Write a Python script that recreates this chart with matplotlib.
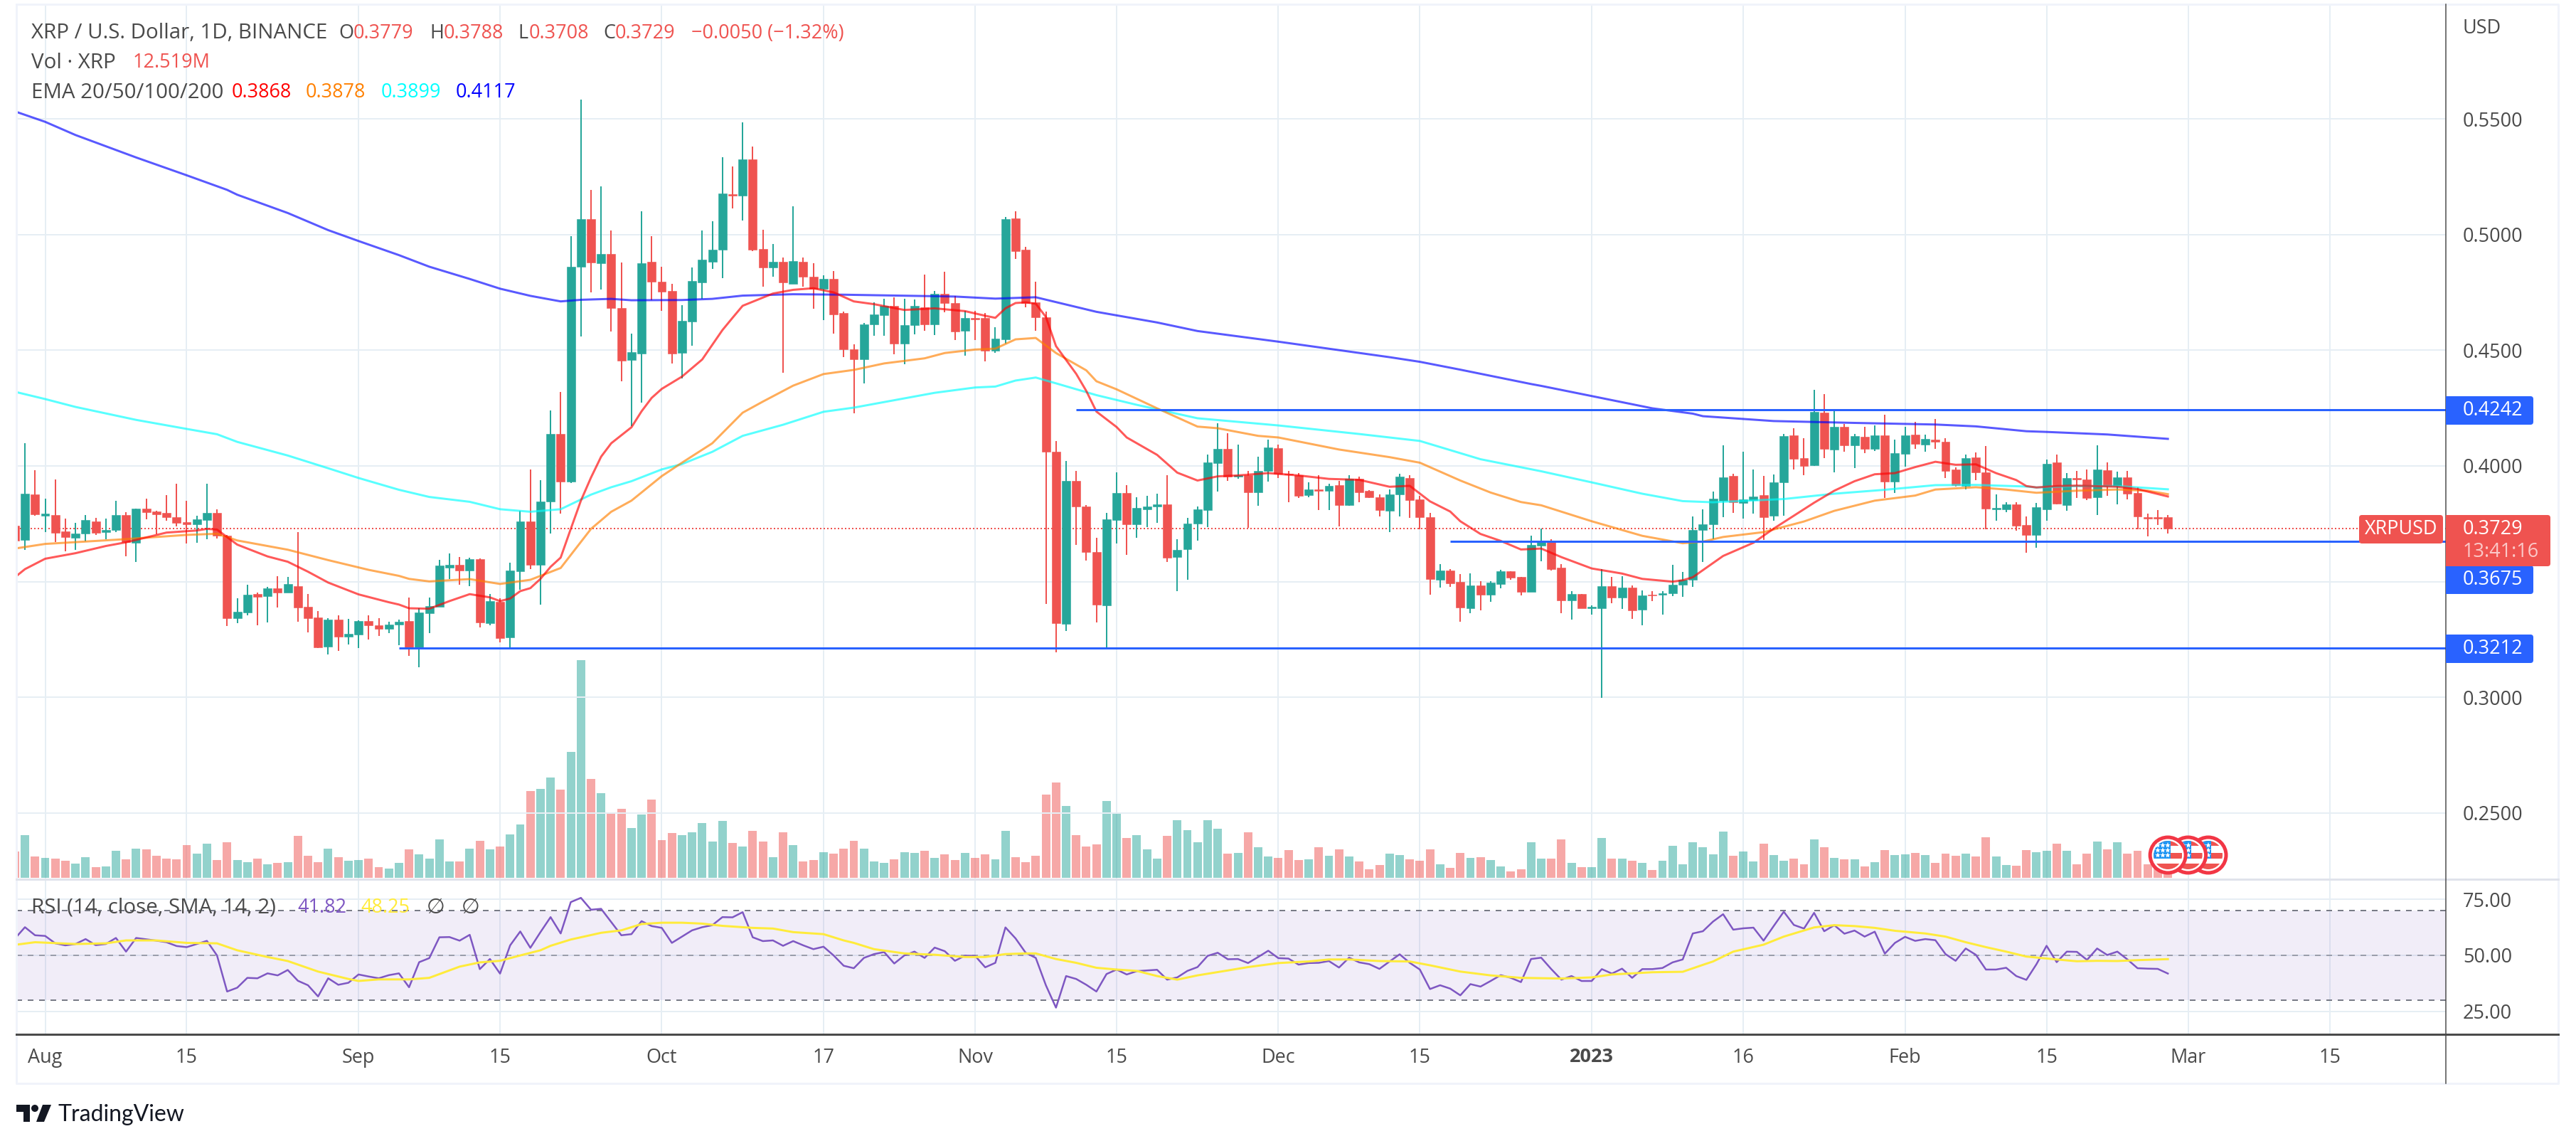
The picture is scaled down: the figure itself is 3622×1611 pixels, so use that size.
import matplotlib
matplotlib.use('Agg')
import matplotlib.pyplot as plt
import numpy as np
from matplotlib.patches import Circle, FancyBboxPatch, Polygon, Rectangle

# every series is daily, day 0 is 1 Aug 2022, first visible bar is day -3
opens = [
    .3741, .3681, .3876, .3784, .3787, .3717, .3689, .3707, .3760, .3713,
    .3722, .3787, .3667, .3815, .3802, .3796, .3778, .3757, .3747, .3765,
    .3796, .3699, .3342, .3367, .3446, .3438, .3471, .3452, .3480, .3391,
    .3346, .3220, .3336, .3262, .3272, .3330, .3312, .3296, .3315, .3330,
    .3210, .3364, .3391, .3560, .3572, .3548, .3597, .3320, .3412, .3259,
    .3544, .3760, .3572, .3846, .4137, .3931, .4860, .5068, .4875, .4917,
    .4682, .4458, .4487, .4881, .4795, .4755, .4489, .4624, .4792, .4883,
    .4934, .5174, .5167, .5325, .4939, .4859, .4883, .4788, .4883, .4819,
    .4764, .4807, .4660, .4505, .4462, .4613, .4652, .4692, .4528, .4610,
    .4684, .4613, .4745, .4704, .4583, .4640, .4638, .4497, .4546, .5069,
    .4933, .4708, .4641, .4063, .3319, .3934, .3825, .3628, .3399, .3765,
    .3882, .3748, .3812, .3824, .3835, .3606, .3639, .3751, .3809, .4011,
    .4075, .3953, .3961, .3885, .3977, .4077, .3967, .3959, .3873, .3898,
    .3892, .3916, .3832, .3944, .3892, .3865, .3806, .3876, .3949, .3855,
    .3780, .3508, .3547, .3500, .3384, .3485, .3445, .3490, .3544, .3520,
    .3456, .3657, .3676, .3560, .3418, .3448, .3384, .3384, .3480, .3430,
    .3474, .3378, .3445, .3445, .3451, .3488, .3507, .3724, .3749, .3850,
    .3957, .3841, .3853, .3874, .3785, .3929, .4132, .4034, .4003, .4230,
    .4071, .4169, .4089, .4126, .4074, .4132, .3933, .4052, .4135, .4092,
    .4114, .4104, .3985, .3914, .4037, .3972, .3813, .3813, .3834, .3745,
    .3702, .3813, .4015, .3831, .3948, .3942, .3865, .3982, .3914, .3951,
    .3883, .3780, .3780, .3779,
]
closes = [
    .3678, .3879, .3791, .3794, .3710, .3692, .3707, .3765, .3710, .3722,
    .3787, .3670, .3815, .3799, .3791, .3778, .3754, .3747, .3768, .3796,
    .3699, .3342, .3370, .3444, .3434, .3471, .3452, .3489, .3388, .3342,
    .3217, .3336, .3262, .3275, .3330, .3312, .3296, .3315, .3327, .3210,
    .3367, .3394, .3570, .3572, .3548, .3597, .3323, .3415, .3256, .3548,
    .3760, .3572, .3846, .4137, .3931, .4862, .5068, .4879, .4917, .4682,
    .4455, .4492, .4877, .4795, .4752, .4487, .4627, .4798, .4890, .4933,
    .5178, .5168, .5325, .4933, .4859, .4883, .4792, .4886, .4817, .4764,
    .4807, .4655, .4505, .4462, .4613, .4656, .4692, .4528, .4610, .4692,
    .4613, .4745, .4704, .4580, .4640, .4634, .4498, .4549, .5066, .4927,
    .4705, .4641, .4060, .3322, .3934, .3825, .3628, .3402, .3768, .3882,
    .3748, .3818, .3824, .3835, .3603, .3636, .3751, .3812, .4014, .4075,
    .3953, .3961, .3885, .3980, .4081, .3967, .3964, .3870, .3898, .3892,
    .3913, .3832, .3944, .3885, .3865, .3809, .3876, .3953, .3852, .3780,
    .3511, .3547, .3494, .3387, .3485, .3445, .3496, .3544, .3517, .3456,
    .3658, .3676, .3553, .3418, .3448, .3386, .3390, .3480, .3430, .3474,
    .3375, .3442, .3439, .3451, .3488, .3509, .3724, .3749, .3859, .3951,
    .3844, .3856, .3868, .3779, .3929, .4129, .4031, .4000, .4233, .4074,
    .4169, .4089, .4129, .4074, .4132, .3933, .4055, .4132, .4095, .4117,
    .4104, .3979, .3917, .4034, .3972, .3816, .3819, .3834, .3742, .3702,
    .3822, .4009, .3837, .3948, .3942, .3862, .3985, .3914, .3951, .3880,
    .3782, .3774, .3774, .3729,
]
highs = [
    .3760, .4097, .3981, .3858, .3941, .3772, .3754, .3787, .3775, .3772,
    .3849, .3799, .3815, .3858, .3805, .3873, .3922, .3849, .3784, .3922,
    .3812, .3702, .3428, .3486, .3452, .3477, .3523, .3520, .3713, .3446,
    .3373, .3342, .3354, .3339, .3333, .3354, .3342, .3327, .3336, .3431,
    .3385, .3431, .3594, .3622, .3606, .3602, .3600, .3446, .3428, .3581,
    .3805, .3984, .3938, .4239, .4321, .4994, .5584, .5193, .5207, .5018,
    .4878, .4571, .5102, .4994, .4862, .4786, .4694, .4859, .5018, .5058,
    .5334, .5295, .5485, .5380, .5021, .4960, .4902, .5123, .4902, .4875,
    .4824, .4841, .4667, .4525, .4619, .4708, .4722, .4729, .4723, .4719,
    .4826, .4756, .4838, .4735, .4671, .4671, .4660, .4598, .5077, .5101,
    .4946, .4797, .4666, .4109, .4023, .3977, .3830, .3688, .3797, .3972,
    .3916, .3865, .3870, .3879, .3961, .3682, .3777, .3824, .4048, .4185,
    .4142, .4093, .3977, .4039, .4114, .4093, .3977, .3969, .3929, .3961,
    .3923, .3935, .3961, .3953, .3897, .3877, .3899, .3967, .3959, .3870,
    .3797, .3575, .3554, .3532, .3535, .3503, .3503, .3550, .3544, .3520,
    .3698, .3730, .3684, .3575, .3460, .3448, .3398, .3554, .3520, .3523,
    .3485, .3463, .3460, .3460, .3573, .3541, .3782, .3813, .3890, .4089,
    .3967, .4061, .3985, .3957, .3963, .4138, .4163, .4120, .4328, .4310,
    .4245, .4181, .4138, .4169, .4175, .4221, .4114, .4169, .4190, .4135,
    .4203, .4120, .3995, .4049, .4058, .4086, .3877, .3843, .3843, .3782,
    .3840, .4028, .4049, .3969, .3979, .3985, .4089, .4015, .3975, .3979,
    .3908, .3794, .3810, .3788,
]
lows = [
    .3660, .3636, .3784, .3715, .3670, .3631, .3636, .3674, .3702, .3683,
    .3715, .3609, .3586, .3768, .3705, .3762, .3738, .3665, .3667, .3683,
    .3686, .3309, .3321, .3354, .3312, .3323, .3388, .3452, .3327, .3281,
    .3214, .3186, .3201, .3228, .3214, .3250, .3265, .3278, .3226, .3180,
    .3130, .3278, .3391, .3511, .3486, .3480, .3302, .3312, .3238, .3217,
    .3464, .3554, .3401, .3707, .3794, .3925, .4559, .4749, .4762, .4581,
    .4365, .4172, .4275, .4716, .4671, .4442, .4378, .4519, .4722, .4851,
    .4811, .5113, .5062, .4927, .4774, .4819, .4403, .4788, .4774, .4680,
    .4629, .4572, .4471, .4227, .4357, .4562, .4562, .4482, .4440, .4568,
    .4583, .4565, .4663, .4544, .4477, .4544, .4452, .4488, .4528, .4896,
    .4684, .4583, .3404, .3195, .3286, .3658, .3591, .3323, .3211, .3664,
    .3615, .3688, .3737, .3755, .3585, .3460, .3508, .3676, .3737, .3888,
    .3934, .3944, .3733, .3829, .3931, .3949, .3843, .3862, .3864, .3809,
    .3809, .3740, .3829, .3843, .3862, .3783, .3713, .3783, .3776, .3725,
    .3445, .3475, .3478, .3326, .3363, .3375, .3413, .3471, .3509, .3439,
    .3456, .3587, .3547, .3363, .3335, .3386, .3356, .2998, .3408, .3381,
    .3338, .3311, .3415, .3359, .3438, .3433, .3476, .3586, .3683, .3778,
    .3798, .3773, .3795, .3680, .3764, .3785, .3985, .3960, .4000, .4034,
    .3972, .4061, .3991, .4055, .4064, .3862, .3883, .3997, .4074, .4061,
    .4074, .3948, .3911, .3899, .3939, .3727, .3764, .3801, .3721, .3626,
    .3647, .3764, .3834, .3807, .3862, .3853, .3788, .3871, .3834, .3856,
    .3727, .3696, .3745, .3708,
]
volumes = [
    21.0, 34.2, 17.0, 16.0, 15.4, 13.6, 11.4, 16.4, 8.6, 9.0,
    21.6, 14.8, 23.4, 22.8, 17.6, 15.4, 14.8, 26.2, 19.4, 27.2,
    14.2, 28.4, 14.2, 12.4, 15.4, 10.8, 12.0, 12.4, 33.6, 17.6,
    12.4, 23.4, 16.4, 13.6, 14.2, 15.4, 8.6, 7.4, 12.0, 22.8,
    18.8, 15.4, 30.8, 13.0, 13.0, 23.4, 29.6, 22.8, 25.0, 34.6,
    42.6, 69.4, 71.2, 80.2, 70.6, 101.0, 174.2, 79.0, 67.6, 51.2,
    55.2, 39.8, 50.6, 62.6, 30.2, 35.8, 34.2, 36.4, 43.8, 29.0,
    45.6, 27.8, 25.0, 37.6, 29.0, 16.4, 36.4, 26.2, 13.0, 14.2,
    20.4, 19.4, 23.4, 29.6, 23.4, 13.0, 12.0, 14.8, 20.4, 19.8,
    21.6, 16.0, 18.8, 14.2, 19.8, 16.0, 18.8, 14.8, 37.6, 16.4,
    12.4, 17.6, 66.6, 76.2, 57.4, 34.2, 25.0, 26.8, 61.4, 52.4,
    31.8, 34.2, 22.8, 15.4, 33.6, 46.0, 38.2, 28.4, 46.0, 39.2,
    19.4, 19.8, 36.4, 24.4, 17.0, 16.0, 22.2, 14.2, 14.8, 24.4,
    17.6, 22.8, 17.0, 13.0, 6.8, 10.2, 19.4, 18.2, 14.8, 13.6,
    22.8, 10.8, 8.0, 19.8, 16.0, 16.4, 14.2, 9.0, 5.0, 6.8,
    28.4, 15.4, 15.4, 30.8, 12.0, 8.6, 8.6, 31.8, 15.4, 15.4,
    13.6, 12.0, 6.2, 13.6, 25.6, 10.8, 28.4, 24.4, 18.8, 37.0,
    17.6, 21.0, 13.0, 27.2, 18.2, 13.6, 15.4, 10.8, 30.8, 24.4,
    16.0, 14.8, 14.8, 9.0, 12.4, 22.2, 18.2, 18.8, 19.8, 18.2,
    12.0, 19.4, 17.6, 19.4, 17.0, 32.4, 17.0, 10.2, 9.6, 22.2,
    20.4, 21.6, 27.2, 21.6, 10.8, 19.4, 29.0, 22.8, 28.4, 19.4,
    21.6, 10.8, 9.0, 12.519,
]
rsi = [
    57.4, 62.5, 58.9, 58.6, 55.3, 54.4, 55.0, 57.2, 54.5, 55.0,
    57.7, 51.6, 57.7, 57.1, 56.5, 55.8, 54.1, 53.6, 55.0, 56.4,
    49.9, 33.8, 35.5, 39.9, 39.7, 41.9, 41.0, 43.4, 38.6, 36.6,
    31.6, 39.7, 36.8, 37.7, 41.4, 40.5, 39.7, 41.1, 41.9, 35.7,
    46.9, 48.7, 58.0, 58.1, 56.5, 59.1, 43.8, 48.3, 41.8, 54.4,
    60.6, 53.3, 60.3, 67.0, 59.7, 73.7, 75.6, 70.3, 70.7, 64.8,
    58.9, 59.4, 65.2, 63.0, 62.2, 55.5, 58.3, 61.1, 62.5, 63.4,
    67.0, 66.9, 69.2, 58.0, 56.3, 56.6, 54.2, 56.3, 54.4, 52.7,
    53.8, 49.9, 45.3, 44.2, 48.8, 50.5, 51.4, 46.3, 49.9, 51.6,
    48.8, 53.4, 51.8, 47.5, 49.8, 49.7, 44.6, 46.6, 62.4, 57.5,
    51.1, 48.8, 36.6, 26.6, 40.7, 39.4, 36.8, 33.8, 41.6, 43.6,
    41.4, 42.9, 43.2, 43.5, 39.1, 40.1, 43.0, 44.7, 49.7, 51.1,
    48.2, 48.3, 46.5, 49.2, 52.0, 48.7, 48.5, 45.8, 46.5, 46.6,
    47.4, 44.5, 48.9, 46.8, 46.0, 43.9, 47.2, 50.4, 46.6, 43.6,
    34.9, 36.6, 35.1, 32.1, 37.1, 36.0, 38.5, 41.1, 39.9, 38.0,
    48.3, 48.9, 43.8, 39.1, 40.7, 38.5, 38.5, 43.8, 41.8, 44.0,
    39.9, 43.8, 43.8, 44.3, 46.8, 48.1, 59.7, 60.7, 65.0, 68.3,
    61.4, 62.0, 62.3, 56.5, 63.0, 69.4, 63.5, 61.9, 68.9, 60.7,
    63.4, 59.6, 61.0, 58.3, 60.5, 50.7, 55.5, 58.2, 56.4, 57.2,
    56.7, 50.5, 47.5, 53.0, 50.2, 43.6, 43.6, 44.4, 40.7, 39.0,
    46.0, 54.2, 46.9, 51.6, 51.5, 47.9, 53.0, 50.1, 51.6, 48.1,
    44.2, 44.0, 43.9, 41.82,
]

# moving averages at the days where they bend
ema20_days = [
    -2.85, -2, 0, 3, 6, 8, 10, 12, 15, 16, 17, 19, 22, 24, 26, 28, 31, 34, 35, 36,
    38, 40, 42, 44, 45, 46, 47, 48, 49, 50, 51, 52, 53, 54, 55, 56, 58, 59, 60, 61,
    63, 65, 67, 68, 69, 72, 74, 76, 78, 80, 82, 85, 88, 91, 93, 94, 95, 96, 97, 98,
    99, 100, 102, 103, 104, 106, 107, 110, 112, 114, 116, 118, 121, 124, 127, 130,
    133, 135, 137, 139, 140, 142, 144, 146, 148, 150, 153, 156, 158, 161, 162, 163,
    166, 169, 171, 173, 175, 177, 179, 181, 183, 185, 187, 189, 191, 193, 195, 196,
    197, 199, 201, 205, 207, 210,
]
ema20 = [
    .3524, .3554, .3599, .3623, .3654, .3670, .3691, .3712, .3721, .3728, .3725, .3660, .3609, .3586, .3543, .3496, .3445, .3411, .3401, .3385,
    .3383, .3416, .3446, .3432, .3416, .3427, .3459, .3472, .3512, .3564, .3604, .3728, .3850, .3950, .4040, .4098, .4167, .4236, .4294, .4333,
    .4386, .4460, .4587, .4640, .4692, .4745, .4761, .4768, .4750, .4711, .4699, .4674, .4681, .4669, .4649, .4640, .4681, .4704, .4707, .4701,
    .4644, .4518, .4398, .4324, .4235, .4168, .4123, .4048, .3971, .3937, .3955, .3959, .3969, .3959, .3944, .3940,
    .3910, .3914, .3847, .3803, .3761, .3706, .3676, .3639, .3643, .3606, .3557, .3535, .3512, .3500, .3506, .3519,
    .3611, .3668, .3729, .3785, .3841, .3893, .3934, .3964, .3969, .3995, .4018, .4005, .4007, .3969, .3939, .3913,
    .3907, .3913, .3915, .3910, .3900, .3868,
]
ema50_days = [
    -2.85, 0, 7, 14, 17, 19, 24, 28, 32, 35, 36, 38, 42, 45, 48, 51, 54, 56, 58, 61,
    63, 66, 69, 71, 74, 77, 80, 83, 87, 89, 92, 94, 96, 98, 100, 103, 104, 106, 110,
    114, 116, 120, 122, 128, 133, 136, 140, 143, 146, 148, 153, 158, 162, 164, 166,
    170, 174, 177, 181, 185, 187, 191, 194, 197, 201, 205, 208, 210,
]
ema50 = [
    .3644, .3663, .3681, .3702, .3707, .3678, .3638, .3593, .3551, .3525, .3512, .3501, .3511, .3490, .3508, .3559, .3728, .3802, .3850, .3956,
    .4014, .4098, .4230, .4278, .4347, .4397, .4415, .4443, .4465, .4488, .4503, .4507, .4547, .4553, .4488, .4413, .4366, .4331, .4249,
    .4170, .4163, .4130, .4123, .4071, .4038, .4014, .3937, .3885, .3844, .3830, .3761, .3698, .3666, .3673, .3693,
    .3714, .3760, .3806, .3850, .3872, .3898, .3908, .3898, .3884, .3893, .3898, .3893, .3878,
]
ema100_days = [
    -2.85, 0, 3, 9, 14, 17, 19, 24, 28, 31, 35, 38, 42, 45, 48, 51, 54, 56, 58, 61,
    63, 66, 69, 73, 77, 80, 84, 88, 92, 94, 96, 98, 100, 104, 108, 114, 122, 130,
    136, 142, 148, 153, 158, 162, 165, 172, 177, 182, 187, 191, 196, 197, 201, 205, 210,
]
ema100 = [
    .4319, .4289, .4255, .4199, .4160, .4137, .4104, .4045, .3990, .3948, .3897, .3866, .3845, .3813, .3802, .3813, .3876, .3908, .3934, .3985,
    .4008, .4061, .4130, .4178, .4234, .4252, .4284, .4316, .4339, .4343, .4369, .4382, .4357, .4306, .4264, .4206, .4175, .4138,
    .4108, .4029, .3977, .3929, .3880, .3848, .3843, .3857, .3880, .3897, .3917, .3918, .3911, .3907, .3913, .3913, .3899,
]
ema200_days = [
    -2.85, 0, 3, 9, 14, 18, 19, 24, 28, 31, 35, 38, 42, 45, 48, 51, 53, 56, 58, 63,
    66, 69, 74, 79, 90, 94, 98, 100, 104, 110, 114, 122, 133, 136, 140, 147, 148,
    153, 159, 163, 164, 171, 179, 187, 191, 196, 198, 204, 210,
]
ema200 = [
    .5530, .5487, .5430, .5333, .5256, .5193, .5172, .5093, .5019, .4972, .4911, .4861, .4808, .4766, .4735, .4711, .4718, .4722, .4716, .4717,
    .4722, .4736, .4742, .4740, .4732, .4723, .4729, .4708, .4666, .4620, .4583, .4537, .4470, .4450, .4416, .4354, .4346,
    .4302, .4249, .4226, .4215, .4194, .4186, .4179, .4171, .4150, .4147, .4136, .4117,
]
rsi_ma_days = [
    -2.85, -1, 3, 6, 8, 11, 14, 17, 19, 22, 24, 27, 30, 31, 33, 36, 38, 41, 43, 45,
    47, 49, 50, 52, 55, 57, 59, 61, 63, 65, 67, 70, 72, 74, 77, 79, 80, 82, 85, 88,
    91, 93, 95, 97, 98, 100, 102, 104, 106, 108, 110, 112, 114, 117, 119, 122, 125,
    127, 129, 132, 135, 137, 140, 143, 146, 150, 153, 155, 157, 159, 162, 164, 165,
    167, 170, 172, 175, 177, 179, 181, 183, 186, 188, 190, 192, 194, 196, 199, 201,
    203, 205, 207, 210,
]
rsi_ma = [
    54.7, 55.8, 55.0, 55.3, 56.6, 56.6, 55.5, 55.3, 52.2, 49.2, 47.4, 42.7, 39.4, 38.5, 39.2, 39.2, 39.9, 44.9, 46.8, 47.5,
    49.9, 52.2, 54.2, 57.0, 60.0, 61.1, 63.9, 64.5, 64.5, 64.1, 63.1, 62.2, 61.9, 60.3, 59.4, 56.6, 55.5, 52.7, 50.8, 50.2,
    49.2, 49.2, 50.5, 50.8, 50.8, 48.3, 46.6, 44.4, 43.6, 43.0, 40.7, 39.1, 41.0, 43.2, 44.7, 46.5, 47.2,
    48.1, 48.1, 47.4, 47.2, 45.5, 42.7, 41.0, 39.9, 39.6, 40.1, 41.4, 41.9, 42.4, 42.6, 45.7, 47.2,
    51.6, 54.7, 58.3, 62.4, 63.4, 63.0, 62.2, 60.9, 59.7, 58.3, 55.8, 53.6, 51.6, 49.4, 48.1, 47.3,
    47.5, 47.4, 47.8, 48.25,
]

# drawn horizontal levels: price, first day
level_prices = [0.4242, 0.3675, 0.3212]
level_starts = [102, 139, 35]
last_price = 0.3729

price_ticks = [0.25, 0.30, 0.35, 0.40, 0.45, 0.50, 0.55]
rsi_ticks = [25, 50, 75]
date_days = [0, 14, 31, 45, 61, 77, 92, 106, 122, 136, 153, 168, 184, 198, 212, 226]
date_labels = ['Aug', '15', 'Sep', '15', 'Oct', '17', 'Nov', '15', 'Dec', '15',
               '2023', '16', 'Feb', '15', 'Mar', '15']
event_days = [214, 212, 210]

W, H = 3623, 1611
GREEN, RED = '#26a69a', '#ef5350'
BLUE = '#2962ff'
GRID = '#e6eef4'
TEXT = '#4a4a4a'
PT = 0.72  # one output pixel in points at dpi 100
FS = 27 * PT
FS_LEGEND = 29.5 * PT

plt.rcParams['font.family'] = ['Open Sans', 'DejaVu Sans']


def rect(left, top, right, bottom):
    return [left / W, 1 - bottom / H, (right - left) / W, (bottom - top) / H]


days = np.arange(-3, 211)
opens, highs, lows, closes = map(np.array, (opens, highs, lows, closes))
up = closes >= opens
colors = np.where(up, GREEN, RED)

fig = plt.figure(figsize=(W / 100, H / 100), dpi=100, facecolor='white')
ax_vol = fig.add_axes(rect(23, 6, 3439, 1236), zorder=1)
ax = fig.add_axes(rect(23, 6, 3439, 1236), zorder=2)
ax_rsi = fig.add_axes(rect(23, 1236, 3439, 1454), zorder=2)
over = fig.add_axes([0, 0, 1, 1], zorder=5)
over.set_xlim(0, W)
over.set_ylim(H, 0)
over.axis('off')

x_range = (-2.85, 237.5)

# volume
ax_vol.bar(days, volumes, width=0.84, color=colors, alpha=0.5, linewidth=0, zorder=3)
ax_vol.set_xlim(*x_range)
ax_vol.set_ylim(-1.14, 699)
ax_vol.set_xticks(date_days)
ax_vol.set_yticks([])
ax_vol.tick_params(length=0, labelbottom=False)
ax_vol.grid(axis='x', color=GRID, lw=2 * PT, zorder=0)
ax_vol.set_axisbelow(True)
for spine in ax_vol.spines.values():
    spine.set_visible(False)

# candles
ax.patch.set_visible(False)
ax.vlines(days, lows, highs, colors=colors, lw=2 * PT, zorder=3)
ax.bar(days, np.abs(closes - opens), bottom=np.minimum(opens, closes), width=0.84,
       color=colors, edgecolor=colors, linewidth=0.4, zorder=4)
ax.plot(ema200_days, ema200, color='#0000ff', alpha=0.65, lw=3 * PT, zorder=5)
ax.plot(ema100_days, ema100, color='#00ffff', alpha=0.65, lw=3 * PT, zorder=5)
ax.plot(ema50_days, ema50, color='#ff8000', alpha=0.65, lw=3 * PT, zorder=5)
ax.plot(ema20_days, ema20, color='#ff0000', alpha=0.65, lw=3 * PT, zorder=5)
for price, start in zip(level_prices, level_starts):
    ax.hlines(price, start, x_range[1], color=BLUE, lw=3 * PT, zorder=6)
ax.axhline(last_price, color=RED, lw=2 * PT, ls=(0, (1, 1.5)), zorder=2)

ax.set_xlim(*x_range)
ax.set_ylim(0.2214, 0.5995)
ax.set_xticks(date_days)
ax.set_yticks(price_ticks)
ax.set_yticklabels(['%.4f' % p for p in price_ticks])
ax.yaxis.tick_right()
ax.tick_params(axis='y', length=0, pad=24 * PT, labelsize=FS, labelcolor=TEXT)
ax.tick_params(axis='x', length=0, labelbottom=False)
ax.grid(axis='y', color=GRID, lw=2 * PT, zorder=0)
ax.set_axisbelow(True)
for spine in ax.spines.values():
    spine.set_visible(False)

# rsi
ax_rsi.patch.set_visible(False)
ax_rsi.axhspan(30, 70, color='#7e57c2', alpha=0.1, lw=0, zorder=1)
for level, alpha in [(70, 1), (50, 0.65), (30, 1)]:
    ax_rsi.axhline(level, color='#787b86', alpha=alpha, lw=2 * PT, ls=(0, (4, 4)), zorder=2)
ax_rsi.plot(days, rsi, color='#7e57c2', lw=2.5 * PT, zorder=4)
ax_rsi.plot(rsi_ma_days, rsi_ma, color='#ffeb3b', lw=3 * PT, zorder=5)
ax_rsi.set_xlim(*x_range)
ax_rsi.set_ylim(14.7, 83.9)
ax_rsi.set_xticks(date_days)
ax_rsi.set_xticklabels(date_labels)
ax_rsi.set_yticks(rsi_ticks)
ax_rsi.set_yticklabels(['%.2f' % v for v in rsi_ticks])
ax_rsi.yaxis.tick_right()
ax_rsi.tick_params(axis='y', length=0, pad=24 * PT, labelsize=FS, labelcolor=TEXT)
ax_rsi.tick_params(axis='x', length=0, pad=14, labelsize=FS, labelcolor=TEXT)
for label_ in ax_rsi.get_xticklabels():
    if label_.get_text() == '2023':
        label_.set_fontweight('bold')
ax_rsi.grid(color=GRID, lw=2 * PT, zorder=0)
ax_rsi.set_axisbelow(True)
for spine in ax_rsi.spines.values():
    spine.set_visible(False)

# frame and pane separators
over.plot([23, 3597, 3597, 23, 23], [6, 6, 1523, 1523, 6], color='#f0f3fa', lw=3 * PT)
over.plot([23, 3597], [1236, 1236], color='#e0e3eb', lw=3 * PT)
over.plot([23, 3597], [1454, 1454], color=TEXT, lw=3 * PT)
over.plot([3439, 3439], [6, 1523], color=TEXT, lw=1.5 * PT)


def tag(left, top, right, bottom, color, square_left=True):
    over.add_patch(FancyBboxPatch((left, top), right - left, bottom - top,
                                  boxstyle='round,pad=0,rounding_size=4', fc=color, ec='none', zorder=6))
    if square_left:
        over.add_patch(Rectangle((left, top), 8, bottom - top, fc=color, ec='none', zorder=6))


def label(x, y, text, color=TEXT, **kw):
    kw.setdefault('fontsize', FS)
    kw.setdefault('va', 'center')
    kw.setdefault('ha', 'left')
    kw.setdefault('zorder', 8)
    over.text(x, y, text, color=color, **kw)


# price tags on the axis
tag(3439, 557, 3562, 597, BLUE)
label(3463, 577, '0.4242', 'white')
tag(3439, 795, 3562, 835, BLUE)
label(3463, 815, '0.3675', 'white')
tag(3439, 892, 3562, 932, BLUE)
label(3463, 912, '0.3212', 'white')
tag(3439, 724, 3586, 796, RED)
label(3463, 744, '0.3729', 'white')
label(3463, 776, '13:41:16', '#fbc9c8')
tag(3317, 724, 3435, 764, RED, square_left=False)
label(3376, 744, 'XRPUSD', 'white', ha='center')
label(3463, 40, 'USD')

# legend rows
label(44, 47, 'XRP / U.S. Dollar, 1D, BINANCE', fontsize=FS_LEGEND)
for x, text in [(476, 'O'), (604, 'H'), (728, 'L'), (848, 'C')]:
    label(x, 47, text)
for x, text in [(497, '0.3779'), (624, '0.3788'), (744, '0.3708'), (865, '0.3729'),
                (972, '\u22120.0050 (\u22121.32%)')]:
    label(x, 47, text, RED)
label(44, 88, 'Vol \u00b7 XRP', fontsize=FS_LEGEND)
label(187, 88, '12.519M', RED)
label(44, 130, 'EMA 20/50/100/200', fontsize=FS_LEGEND)
for x, text, color in [(326, '0.3868', '#ff0000'), (430, '0.3878', '#ff8000'),
                       (536, '0.3899', '#00ffff'), (641, '0.4117', '#0000ff')]:
    label(x, 130, text, color)
label(44, 1276, 'RSI (14, close, SMA, 14, 2)', fontsize=FS_LEGEND)
label(418, 1276, '41.82', '#7e57c2')
label(507, 1276, '48.25', '#ffeb3b')
label(600, 1276, '\u2205', fontsize=FS_LEGEND)
label(649, 1276, '\u2205', fontsize=FS_LEGEND)

# event flags sit on the time scale of the price pane
for day in event_days:
    cx = 23 + (day - x_range[0]) * (3439 - 23) / (x_range[1] - x_range[0])
    cy = 1202
    ring = Circle((cx, cy), 25, fc='white', ec='#f23645', lw=5 * PT, zorder=7)
    over.add_patch(ring)
    inner = Circle((cx, cy), 20, transform=over.transData)
    parts = [
        (-20, -20, 40, 7, RED), (-20, -3, 40, 8, RED), (-20, 12, 40, 10, RED),
        (-20, -20, 24, 25, '#2196f3'),
    ]
    for dx, dy, w, h, col in parts:
        r = Rectangle((cx + dx, cy + dy), w, h, fc=col, ec='none', zorder=7)
        over.add_patch(r)
        r.set_clip_path(inner)
    for sx in (-14, -7, 0):
        for sy in (-14, -7, 0):
            over.plot(cx + sx, cy + sy, marker='*', ms=6, color='white', mew=0, zorder=7)

# logo
over.add_patch(Polygon([(23, 1553), (42, 1553), (42, 1577), (33, 1577), (33, 1563), (23, 1563)],
                       fc='#131722', ec='none'))
over.add_patch(Circle((49, 1558), 5, fc='#131722', ec='none'))
over.add_patch(Polygon([(60, 1553), (72, 1553), (62, 1577), (51, 1577)], fc='#131722', ec='none'))
label(82, 1567, 'TradingView', '#131722', fontsize=32 * PT, family=['Lato', 'DejaVu Sans'])

fig.savefig('out.png', dpi=100, facecolor='white')
